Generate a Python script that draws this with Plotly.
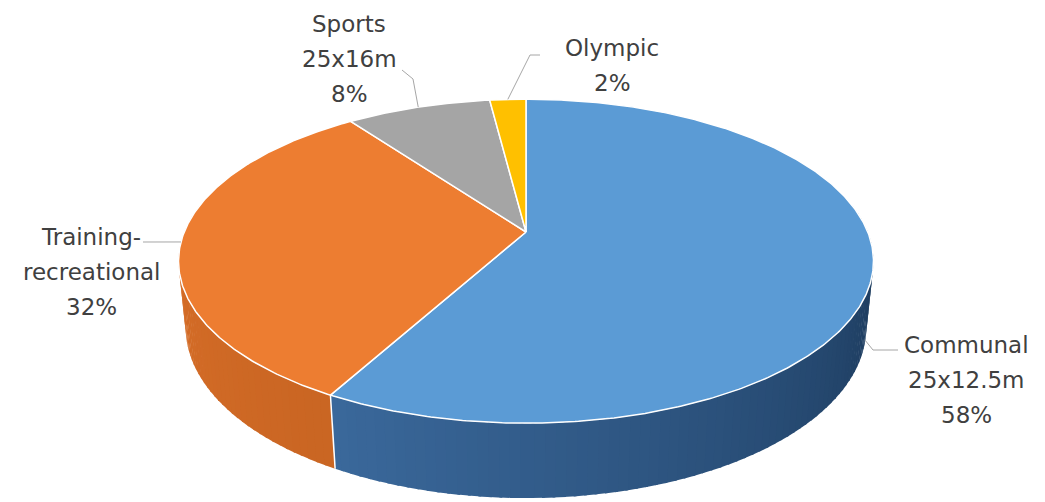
import numpy as np
import plotly.graph_objects as go

# ---- data -------------------------------------------------------------
categories = ["Communal 25x12.5m", "Training-recreational", "Sports 25x16m", "Olympic"]
label_lines = [["Communal", "25x12.5m"], ["Training-", "recreational"], ["Sports", "25x16m"], ["Olympic"]]
shares = [58, 32, 8, 2]

# ---- style ------------------------------------------------------------
top_colors = ["#5b9bd5", "#ed7d31", "#a5a5a5", "#ffc000"]
side_dark = [(26, 55, 88), (175, 85, 25), (120, 120, 120), (190, 140, 0)]
side_light = [(75, 130, 190), (215, 110, 40), (170, 170, 170), (230, 175, 0)]
text_color = "#404040"
leader_color = "#a6a6a6"

# label placement (pixel space) and leader geometry
label_x = [966, 91, 349, 612]
label_y = [345, 237, 24, 48]
line_gap = 35
leader_rim_depth = [1.0, 0.0, 0.0, 0.0]   # 0 = top rim, 1 = bottom rim
leader_elbow = [(873, 350), (170, 242), (413, 79), (530, 55)]
leader_end = [(898, 350), (143, 242), (402, 70), (540, 55)]

# ---- 3-D projection of the disc -------------------------------------
W, H = 1045, 502
CX, CY = 526, 232
TILT = np.radians(27.3)
SIN_T, COS_T = np.sin(TILT), np.cos(TILT)
DIST = 4.93
FOCAL = 1685
THICK = 0.22


def project(theta_deg, r, z):
    th = np.radians(theta_deg)
    X = r * np.sin(th)
    Y = r * np.cos(th)
    yc = Y * SIN_T + z * COS_T
    d = DIST + Y * COS_T - z * SIN_T
    return CX + FOCAL * X / d, CY - FOCAL * yc / d


total = float(sum(shares))
bounds = np.concatenate([[0.0], np.cumsum(shares) / total * 360.0])

fig = go.Figure()

# ---- side walls (gradient segments, far to near) ----------------------
segments = []
step = 1.5
for i in range(len(shares)):
    a0, a1 = bounds[i], bounds[i + 1]
    lo, hi = max(a0, 80.0), min(a1, 280.0)
    if hi <= lo:
        continue
    n = int(np.ceil((hi - lo) / step))
    edges = np.linspace(lo, hi, n + 1)
    for k in range(n):
        t0 = edges[k]
        t1 = min(edges[k + 1] + 0.4, hi)
        mid = 0.5 * (t0 + t1)
        segments.append((np.cos(np.radians(mid)), i, t0, t1, mid))

segments.sort(key=lambda s: -s[0])
for _, i, t0, t1, mid in segments:
    th = np.linspace(t0, t1, 4)
    xt, yt = project(th, 1.0, 0.0)
    xb, yb = project(th[::-1], 1.0, -THICK)
    t = np.clip((mid - 90.0) / 180.0, 0, 1)
    rgb = [int(round(d + (l - d) * t)) for d, l in zip(side_dark[i], side_light[i])]
    fig.add_trace(go.Scatter(
        x=np.concatenate([xt, xb]), y=np.concatenate([yt, yb]),
        mode="lines", fill="toself",
        fillcolor=f"rgb({rgb[0]},{rgb[1]},{rgb[2]})",
        line=dict(width=0), hoverinfo="skip", showlegend=False))

# white seams where slices meet on the visible wall
for a in bounds[1:-1]:
    if 90 < a < 270:
        x0, y0 = project(a, 1.0, 0.0)
        x1, y1 = project(a, 1.0, -THICK)
        fig.add_trace(go.Scatter(x=[x0, x1], y=[y0, y1], mode="lines",
                                 line=dict(color="white", width=1.5),
                                 hoverinfo="skip", showlegend=False))

# ---- top faces ----------------------------------------------------------
for i, name in enumerate(categories):
    a0, a1 = bounds[i], bounds[i + 1]
    th = np.linspace(a0, a1, max(int((a1 - a0) / 0.5), 2) + 1)
    xa, ya = project(th, 1.0, 0.0)
    x0, y0 = project(0.0, 0.0, 0.0)
    fig.add_trace(go.Scatter(
        x=np.concatenate([[x0], xa, [x0]]), y=np.concatenate([[y0], ya, [y0]]),
        mode="lines", fill="toself", fillcolor=top_colors[i],
        line=dict(color="white", width=1.5), name=name,
        hoverinfo="skip", showlegend=False))

# ---- leader lines and data labels --------------------------------------
annotations = []
for i in range(len(shares)):
    mid = 0.5 * (bounds[i] + bounds[i + 1])
    sx, sy = project(mid, 1.0, -THICK * leader_rim_depth[i])
    ex, ey = leader_elbow[i]
    tx, ty = leader_end[i]
    fig.add_trace(go.Scatter(x=[sx, ex, tx], y=[sy, ey, ty], mode="lines",
                             line=dict(color=leader_color, width=1),
                             hoverinfo="skip", showlegend=False))
    pct = f"{round(shares[i] / total * 100)}%"
    lines = label_lines[i] + [pct]
    for j, txt in enumerate(lines):
        annotations.append(dict(
            x=label_x[i], y=label_y[i] + j * line_gap, text=txt,
            xref="x", yref="y", showarrow=False,
            xanchor="center", yanchor="middle",
            font=dict(family="DejaVu Sans", size=23, color=text_color)))

fig.update_layout(
    width=W, height=H,
    margin=dict(l=0, r=0, t=0, b=0),
    paper_bgcolor="white", plot_bgcolor="white",
    xaxis=dict(range=[0, W], visible=False, fixedrange=True),
    yaxis=dict(range=[H, 0], visible=False, fixedrange=True),
    annotations=annotations,
    showlegend=False,
)

fig.write_html("out.html")
